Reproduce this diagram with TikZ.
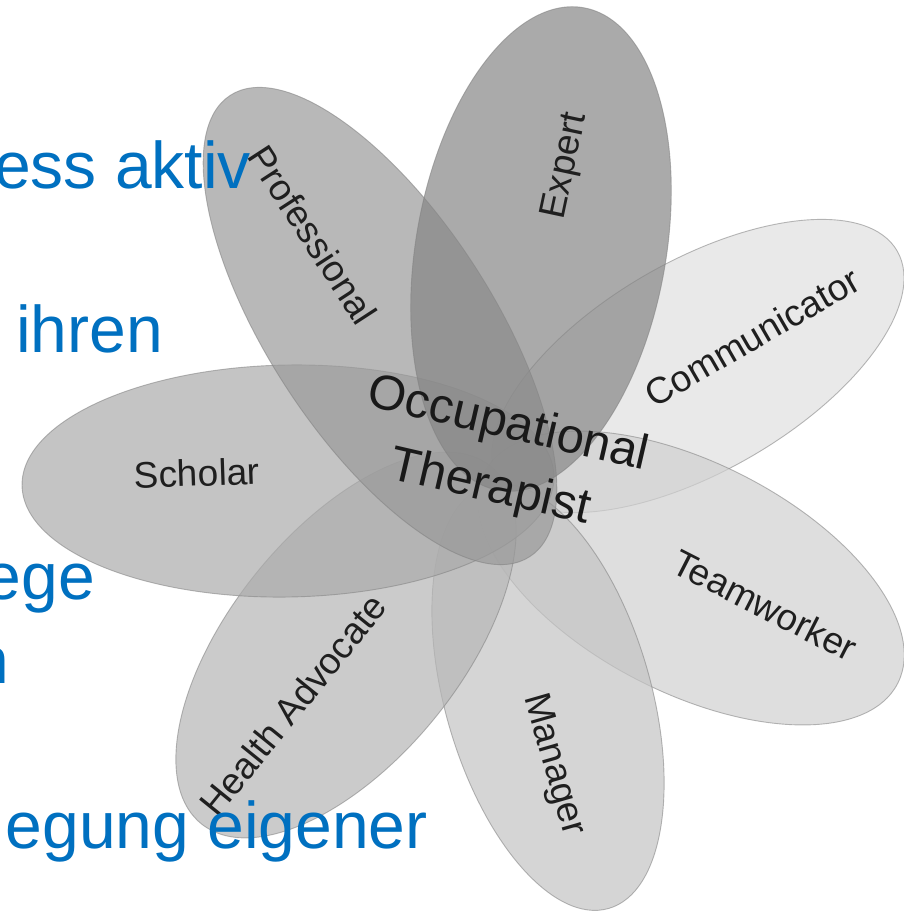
\documentclass[tikz,border=0pt]{standalone}
\usepackage{fontspec}
\setmainfont{Liberation Sans}
\definecolor{slideblue}{RGB}{0,112,192}
\definecolor{cComm}{gray}{0.877}
\definecolor{cTeam}{gray}{0.815}
\definecolor{cMan}{gray}{0.769}
\definecolor{cHealth}{gray}{0.714}
\definecolor{cScholar}{gray}{0.669}
\definecolor{cProf}{gray}{0.602}
\definecolor{cExpert}{gray}{0.524}
\tikzset{
  petal/.style={fill=#1, fill opacity=0.7, draw=black!50, draw opacity=0.55, line width=0.9pt},
  petallabel/.style={text=black!88, inner sep=0pt, font=\fontsize{37}{44}\selectfont},
  centerlabel/.style={text=black!90, inner sep=0pt, anchor=base, rotate=-13, font=\fontsize{49}{58}\selectfont},
  slidetext/.style={text=slideblue, inner sep=0pt, anchor=base east, font=\fontsize{66}{79}\selectfont}
}
\begin{document}
\begin{tikzpicture}[x=1pt,y=-1pt]
\useasboundingbox (0,0) rectangle (904,915);
\clip (0,0) rectangle (904,915);
\fill[white] (0,0) rectangle (904,915);

% petals
\path[petal=cComm, rotate around={30:(698,366)}] (698,366) ellipse [x radius=230pt, y radius=105pt];
\path[petal=cTeam, rotate around={-27:(691,578)}] (691,578) ellipse [x radius=232pt, y radius=115pt];
\path[petal=cMan, rotate around={-74:(548,697)}] (548,697) ellipse [x radius=220pt, y radius=103pt];
\path[petal=cHealth, rotate around={51:(346,645)}] (346,645) ellipse [x radius=230pt, y radius=115pt];
\path[petal=cScholar, rotate around={1:(288,481)}] (288,481) ellipse [x radius=266pt, y radius=116pt];
\path[petal=cProf, rotate around={-57:(380,326)}] (380,326) ellipse [x radius=275pt, y radius=112pt];
\path[petal=cExpert, rotate around={80:(541,249)}] (541,249) ellipse [x radius=245pt, y radius=125pt];

% petal labels
\node[petallabel, rotate=78] (expert) at (566,166) {Expert};
\node[petallabel, rotate=-57] (prof) at (313,235) {Professional};
\node[petallabel, rotate=30] (comm) at (752,337) {Communicator};
\node[petallabel, rotate=-27] (team) at (765,605) {Teamworker};
\node[petallabel, rotate=-74] (man) at (553,765) {Manager};
\node[petallabel, rotate=51] (health) at (293,705) {Health Advocate};
\node[petallabel, rotate=2] (scholar) at (197,473) {Scholar};

% centre
\node[centerlabel] (occ) at (505,438) {Occupational};
\node[centerlabel] (ther) at (487,501) {Therapist};

% slide text in front
\node[slidetext] (t1) at (251,188) {ess aktiv};
\node[slidetext] (t2) at (163,352) {ihren};
\node[slidetext] (t3) at (95,599) {ege};
\node[slidetext] (t4) at (9,683) {n};
\node[slidetext] (t5) at (428,848) {egung eigener};
\end{tikzpicture}
\end{document}
